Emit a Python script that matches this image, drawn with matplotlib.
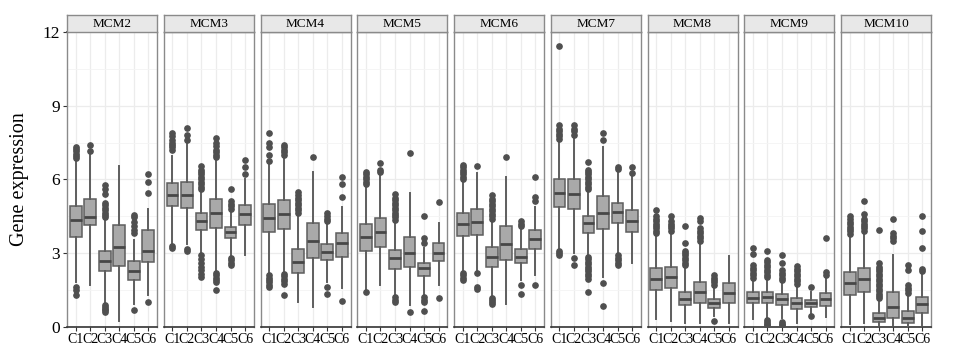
import matplotlib
matplotlib.use("Agg")
import matplotlib.pyplot as plt

# =====================================================
# DATA
# =====================================================

genes = ["MCM2", "MCM3", "MCM4", "MCM5", "MCM6", "MCM7", "MCM8", "MCM9", "MCM10"]
clusters = ["C1", "C2", "C3", "C4", "C5", "C6"]

# one row per gene, one value per cluster
q1 = [
    [3.64, 4.13, 2.28, 2.48, 1.90, 2.62],
    [4.92, 4.85, 3.95, 4.02, 3.62, 4.15],
    [3.84, 3.96, 2.20, 2.81, 2.71, 2.82],
    [3.09, 3.26, 2.33, 2.44, 2.08, 2.67],
    [3.69, 3.73, 2.44, 2.71, 2.58, 3.15],
    [4.86, 4.79, 3.83, 3.96, 4.21, 3.86],
    [1.49, 1.56, 0.88, 0.95, 0.75, 0.98],
    [0.95, 0.95, 0.88, 0.72, 0.79, 0.86],
    [1.29, 1.40, 0.20, 0.34, 0.16, 0.54],
]
med = [
    [4.34, 4.45, 2.69, 3.26, 2.28, 3.09],
    [5.38, 5.37, 4.30, 4.62, 3.87, 4.57],
    [4.44, 4.57, 2.65, 3.50, 3.05, 3.39],
    [3.64, 3.84, 2.78, 3.01, 2.40, 3.01],
    [4.18, 4.28, 2.85, 3.37, 2.85, 3.58],
    [5.46, 5.39, 4.21, 4.62, 4.66, 4.32],
    [1.93, 2.01, 1.11, 1.40, 0.95, 1.36],
    [1.18, 1.19, 1.13, 0.95, 0.95, 1.13],
    [1.76, 1.93, 0.37, 0.81, 0.37, 0.92],
]
q3 = [
    [4.91, 5.19, 3.09, 4.14, 2.66, 3.94],
    [5.86, 5.88, 4.62, 5.22, 4.05, 4.97],
    [5.00, 5.16, 3.16, 4.24, 3.35, 3.80],
    [4.18, 4.44, 3.12, 3.64, 2.61, 3.39],
    [4.62, 4.78, 3.23, 4.10, 3.15, 3.94],
    [6.00, 6.01, 4.51, 5.33, 5.05, 4.75],
    [2.40, 2.44, 1.40, 1.83, 1.11, 1.76],
    [1.40, 1.41, 1.33, 1.15, 1.09, 1.36],
    [2.24, 2.38, 0.54, 1.43, 0.64, 1.22],
]
whisker_lo = [
    [1.83, 1.70, 0.95, 0.24, 0.92, 1.29],
    [3.39, 3.35, 3.00, 2.30, 2.90, 2.90],
    [2.17, 2.24, 1.02, 0.81, 1.83, 1.56],
    [1.49, 1.70, 1.26, 0.88, 1.29, 1.70],
    [2.24, 2.30, 1.22, 0.92, 1.90, 2.10],
    [3.19, 2.99, 2.92, 2.04, 2.99, 2.61],
    [0.30, 0.24, 0.16, 0.14, 0.43, 0.14],
    [0.30, 0.34, 0.34, 0.14, 0.54, 0.41],
    [0.11, 0.14, 0.07, 0.07, 0.03, 0.07],
]
whisker_hi = [
    [6.81, 7.10, 4.41, 6.56, 3.53, 4.78],
    [6.95, 7.50, 5.55, 6.80, 4.70, 6.00],
    [6.65, 6.92, 4.60, 6.31, 4.28, 4.89],
    [5.77, 6.24, 4.28, 5.43, 3.19, 4.24],
    [5.97, 6.24, 4.34, 6.11, 3.94, 4.89],
    [7.60, 7.74, 5.57, 7.33, 6.38, 6.11],
    [3.73, 3.80, 2.44, 3.39, 1.63, 2.88],
    [1.93, 1.97, 1.83, 1.70, 1.43, 2.04],
    [3.73, 3.80, 1.09, 2.92, 1.29, 2.14],
]

# outliers, one list per cluster
fliers_mcm2 = [
    [6.85, 6.95, 7.05, 7.15, 7.25, 7.33, 1.63, 1.49, 1.29],
    [7.15, 7.40],
    [4.45, 4.55, 4.65, 4.75, 4.85, 4.95, 5.05, 5.40, 5.62, 5.75,
     0.90, 0.82, 0.74, 0.66, 0.60],
    [],
    [3.80, 3.95, 4.10, 4.28, 4.45, 4.55, 0.68],
    [5.45, 5.90, 6.20, 1.02],
]
fliers_mcm3 = [
    [7.20, 7.30, 7.40, 7.50, 7.60, 7.75, 7.90, 3.30, 3.22],
    [7.60, 7.80, 8.10, 3.15, 3.08],
    [5.60, 5.70, 5.80, 5.90, 6.00, 6.10, 6.20, 6.30, 6.40, 6.55,
     2.90, 2.75, 2.60, 2.45, 2.30, 2.15, 2.02],
    [6.90, 7.00, 7.10, 7.20, 7.35, 7.50, 7.70, 2.20, 2.10, 2.00,
     1.90, 1.80, 1.50],
    [4.80, 4.90, 5.00, 5.10, 5.62, 2.80, 2.70, 2.60, 2.50],
    [6.20, 6.50, 6.80],
]
fliers_mcm4 = [
    [6.75, 7.00, 7.30, 7.50, 7.90, 2.10, 2.00, 1.90, 1.80, 1.70, 1.62],
    [7.00, 7.10, 7.20, 7.30, 7.40, 2.15, 2.05, 1.95, 1.85, 1.75, 1.30],
    [4.65, 4.75, 4.85, 4.95, 5.05, 5.15, 5.25, 5.35, 5.48],
    [6.90],
    [4.30, 4.40, 4.50, 4.62, 1.60, 1.35],
    [5.30, 5.80, 6.10, 1.06],
]
fliers_mcm5 = [
    [5.82, 5.90, 6.00, 6.10, 6.20, 6.30, 1.43],
    [6.30, 6.40, 6.65],
    [4.35, 4.45, 4.55, 4.65, 4.75, 4.85, 4.95, 5.05, 5.15, 5.25, 5.40,
     1.20, 1.10, 1.02],
    [7.07, 0.61],
    [3.40, 3.62, 4.50, 1.20, 1.10, 1.02, 0.65],
    [5.09, 1.18],
]
fliers_mcm6 = [
    [6.02, 6.10, 6.20, 6.30, 6.40, 6.50, 6.60, 2.20, 2.10, 2.00, 1.90],
    [6.56, 2.20, 1.60, 1.52],
    [4.40, 4.50, 4.60, 4.70, 4.80, 4.90, 5.00, 5.10, 5.20, 5.35,
     1.18, 1.10, 1.02, 0.94],
    [6.90],
    [4.10, 4.20, 4.30, 1.70, 1.35],
    [5.12, 5.28, 6.10, 1.70],
]
fliers_mcm7 = [
    [7.65, 7.75, 7.85, 7.95, 8.05, 8.20, 11.43, 3.10, 3.00, 2.90],
    [7.80, 7.95, 8.05, 8.20, 2.80, 2.50],
    [5.62, 5.70, 5.80, 5.90, 6.00, 6.10, 6.20, 6.30, 6.40, 6.70,
     2.85, 2.75, 2.65, 2.55, 2.45, 2.35, 2.25, 2.15, 2.05, 1.95, 1.40],
    [7.60, 7.90, 1.76, 0.84],
    [6.42, 6.52, 2.90, 2.80, 2.70, 2.60, 2.52],
    [6.25, 6.50],
]
fliers_mcm8 = [
    [3.80, 3.90, 4.00, 4.10, 4.20, 4.30, 4.40, 4.50, 4.75],
    [3.90, 4.00, 4.10, 4.20, 4.30, 4.52],
    [2.50, 2.60, 2.70, 2.80, 2.90, 3.00, 3.10, 3.40, 4.10],
    [3.50, 3.60, 3.70, 3.80, 3.90, 4.00, 4.30, 4.44],
    [1.70, 1.80, 1.90, 2.00, 2.12, 0.25],
    [],
]
fliers_mcm9 = [
    [2.00, 2.10, 2.20, 2.30, 2.40, 2.50, 2.95, 3.20],
    [2.02, 2.12, 2.22, 2.32, 2.42, 2.52, 2.62, 2.72, 3.10,
     0.28, 0.20, 0.12, 0.05],
    [1.90, 2.00, 2.10, 2.20, 2.30, 2.60, 2.90, 0.20, 0.12, 0.05],
    [1.75, 1.85, 1.95, 2.05, 2.15, 2.25, 2.35, 2.48],
    [1.60, 0.45],
    [2.12, 2.24, 3.62],
]
fliers_mcm10 = [
    [3.78, 3.88, 3.98, 4.08, 4.18, 4.28, 4.38, 4.50],
    [3.90, 4.00, 4.10, 4.20, 4.30, 4.40, 4.60, 5.10],
    [1.15, 1.25, 1.35, 1.45, 1.55, 1.65, 1.75, 1.85, 1.95, 2.05,
     2.15, 2.25, 2.35, 2.45, 2.58, 3.94],
    [3.50, 3.60, 3.70, 3.82, 4.40],
    [1.38, 1.48, 1.58, 1.70, 2.30, 2.50],
    [2.25, 2.35, 3.20, 3.90, 4.50],
]
fliers = [fliers_mcm2, fliers_mcm3, fliers_mcm4, fliers_mcm5, fliers_mcm6,
          fliers_mcm7, fliers_mcm8, fliers_mcm9, fliers_mcm10]

y_ticks = [0, 3, 6, 9, 12]

# =====================================================
# STYLE
# =====================================================

plt.rcParams["font.family"] = ["Liberation Serif", "DejaVu Serif"]

box_face = "#a9a9a9"
box_edge = "#5e5e5e"
dot_col = "#4f4f4f"
border_col = "#8a8a8a"
grid_col = "#ececec"

W, H = 980, 346
fig = plt.figure(figsize=(W / 100, H / 100), dpi=100)

left0 = 67
step = 96.75
pw = 90
top_px = 32
bot_px = 326.7
strip_top = 15

# =====================================================
# DRAW PANELS
# =====================================================

for g, gene in enumerate(genes):
    x0 = left0 + g * step
    ax = fig.add_axes([x0 / W, 1 - bot_px / H, pw / W, (bot_px - top_px) / H])

    stats = []
    for c, lab in enumerate(clusters):
        stats.append({
            "label": lab,
            "whislo": whisker_lo[g][c],
            "q1": q1[g][c],
            "med": med[g][c],
            "q3": q3[g][c],
            "whishi": whisker_hi[g][c],
            "fliers": fliers[g][c],
        })

    ax.bxp(
        stats,
        positions=range(1, 7),
        widths=0.8,
        patch_artist=True,
        showcaps=False,
        boxprops=dict(facecolor=box_face, edgecolor=box_edge, linewidth=1.1),
        whiskerprops=dict(color=box_edge, linewidth=1.4),
        medianprops=dict(color="#474747", linewidth=2.0),
        flierprops=dict(marker="o", markerfacecolor=dot_col,
                        markeredgecolor=dot_col, markersize=3.8),
        zorder=3,
    )

    ax.set_xlim(0.4, 6.6)
    ax.set_ylim(0, 12)
    ax.set_xticks(range(1, 7))
    ax.set_xticklabels(clusters)
    ax.set_yticks(y_ticks)
    ax.set_yticks([1.5, 4.5, 7.5, 10.5], minor=True)

    ax.grid(True, which="major", color=grid_col, linewidth=0.9, zorder=0)
    ax.grid(True, which="minor", axis="y", color="#f4f4f4", linewidth=0.6, zorder=0)
    ax.set_axisbelow(True)

    for side in ["top", "right", "left"]:
        ax.spines[side].set_color(border_col)
        ax.spines[side].set_linewidth(1.0)
    ax.spines["bottom"].set_color("#333333")
    ax.spines["bottom"].set_linewidth(1.2)

    ax.tick_params(axis="x", labelsize=10, length=3, width=0.8,
                   color="#333333", pad=1.5)
    ax.tick_params(axis="y", which="minor", length=0)
    if g == 0:
        ax.tick_params(axis="y", labelsize=12.5, length=3, width=0.8,
                       color="#333333", pad=2)
        ax.spines["top"].set_color("#333333")
        ax.spines["top"].set_linewidth(1.2)
        ax.set_ylabel("Gene expression", fontsize=14.5, labelpad=10)
    else:
        ax.tick_params(axis="y", length=0, labelleft=False)

    # strip header
    sax = fig.add_axes([x0 / W, 1 - top_px / H, pw / W, (top_px - strip_top) / H])
    sax.set_facecolor("#e8e8e8")
    sax.set_xticks([])
    sax.set_yticks([])
    for side in sax.spines:
        sax.spines[side].set_color(border_col)
        sax.spines[side].set_linewidth(1.0)
    sax.text(0.5, 0.45, gene, ha="center", va="center", fontsize=9.5,
             transform=sax.transAxes)

fig.savefig("out.png", dpi=100)
